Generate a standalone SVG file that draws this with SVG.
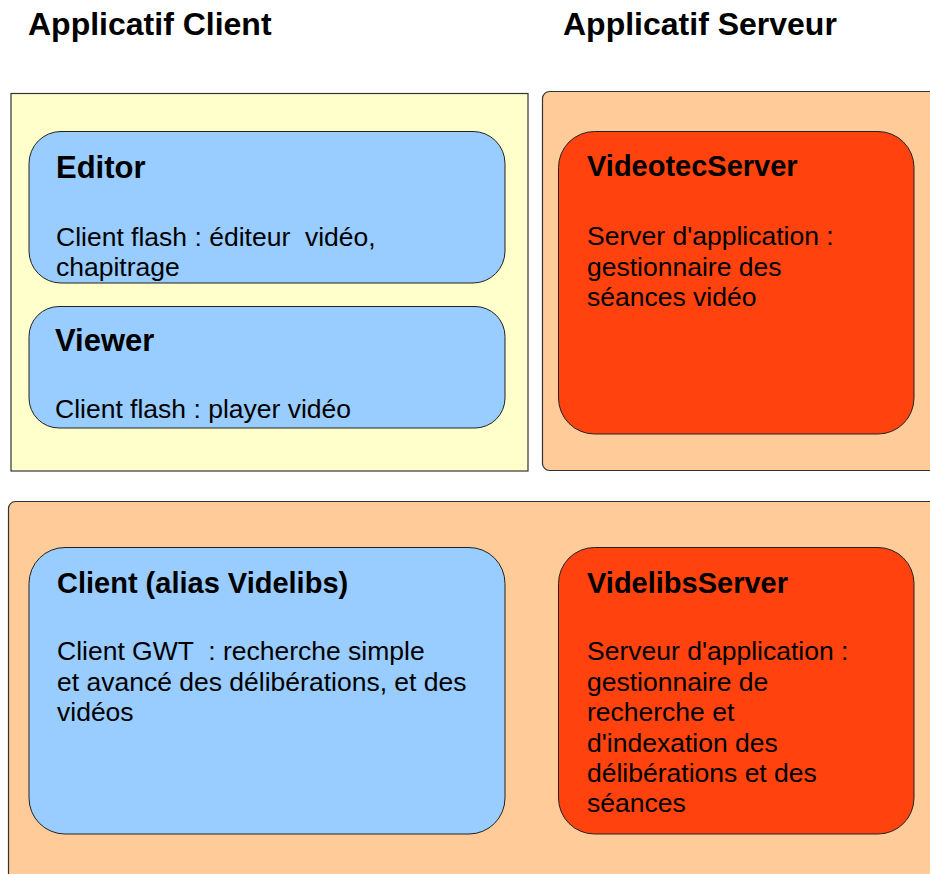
<svg xmlns="http://www.w3.org/2000/svg" width="930" height="874" viewBox="0 0 930 874">
<style>
.t{font-family:"Liberation Sans",Arial,sans-serif;fill:#000;white-space:pre}
.h{font-size:32px;font-weight:bold}
.n{font-size:29px;font-weight:bold}
.n2{font-size:31px;font-weight:bold}
.b{font-size:26.5px}
.frame{stroke:#333;stroke-width:1.2}
.box{stroke:#222;stroke-width:1}
</style>
<rect width="930" height="874" fill="#fff"/>
<g id="titles">
<text class="t h" x="28" y="35">Applicatif Client</text>
<text class="t h" x="563" y="35">Applicatif Serveur</text>
</g>
<g id="client-zone">
<rect class="frame" x="11" y="93.5" width="517" height="377.5" fill="#ffffcc"/>
</g>
<g id="server-zone">
<rect class="frame" x="542.5" y="91.5" width="400" height="379" rx="7" fill="#ffcc99"/>
</g>
<g id="bottom-zone">
<rect class="frame" x="8.5" y="501.5" width="940" height="390" rx="7" fill="#ffcc99"/>
</g>
<g id="editor">
<rect class="box" x="29" y="131.5" width="476" height="151.5" rx="32" fill="#99ccff"/>
<text class="t n2" x="56" y="178">Editor</text>
<text class="t b" x="56" y="246" xml:space="preserve">Client flash : éditeur  vidéo,</text>
<text class="t b" x="56" y="276">chapitrage</text>
</g>
<g id="viewer">
<rect class="box" x="29" y="306.5" width="476" height="121.5" rx="30" fill="#99ccff"/>
<text class="t n2" x="55" y="351">Viewer</text>
<text class="t b" x="55" y="418">Client flash : player vidéo</text>
</g>
<g id="videotecserver">
<rect class="box" x="558.5" y="131.5" width="355.5" height="302.5" rx="36" fill="#ff420e"/>
<text class="t n" x="587" y="176">VideotecServer</text>
<text class="t b" x="587" y="245">Server d'application :</text>
<text class="t b" x="587" y="275.5">gestionnaire des</text>
<text class="t b" x="587" y="306">séances vidéo</text>
</g>
<g id="client-videlibs">
<rect class="box" x="29" y="547.5" width="476" height="286.5" rx="36" fill="#99ccff"/>
<text class="t n" x="57" y="593">Client (alias Videlibs)</text>
<text class="t b" x="57" y="660" xml:space="preserve">Client GWT  : recherche simple</text>
<text class="t b" x="57" y="690.5">et avancé des délibérations, et des</text>
<text class="t b" x="57" y="721">vidéos</text>
</g>
<g id="videlibsserver">
<rect class="box" x="558.5" y="547.5" width="355.5" height="286.5" rx="36" fill="#ff420e"/>
<text class="t n" x="587" y="593">VidelibsServer</text>
<text class="t b" x="587" y="660">Serveur d'application :</text>
<text class="t b" x="587" y="690.5">gestionnaire de</text>
<text class="t b" x="587" y="721">recherche et</text>
<text class="t b" x="587" y="751.5">d'indexation des</text>
<text class="t b" x="587" y="782">délibérations et des</text>
<text class="t b" x="587" y="812">séances</text>
</g>
<g id="connectors"></g>
</svg>
